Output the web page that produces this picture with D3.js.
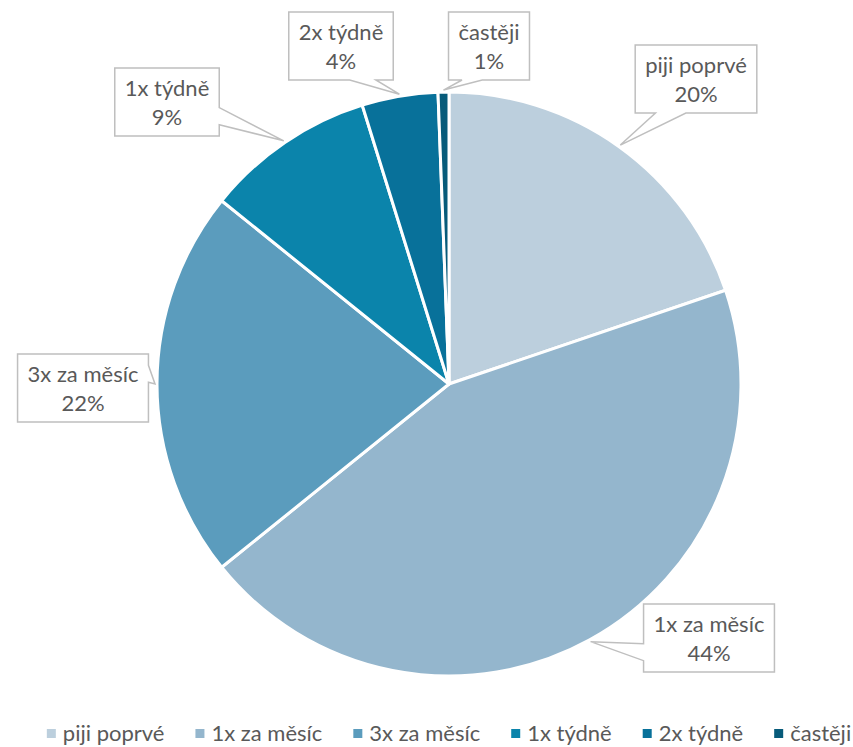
<!DOCTYPE html>
<html>
<head>
<meta charset="utf-8">
<script src="https://cdnjs.cloudflare.com/ajax/libs/d3/7.8.5/d3.min.js"></script>
<style>
body { margin: 0; background: #fff; }
text { font-family: Lato, "Open Sans", sans-serif; fill: #595959; }
</style>
</head>
<body>
<script>
var width = 853, height = 747;

var categories = ["piji poprvé", "1x za měsíc", "3x za měsíc", "1x týdně", "2x týdně", "častěji"];
var values = [19.8, 44.4, 21.6, 9.4, 4.2, 0.6];
var colors = ["#bccfdd", "#94b6cd", "#5b9cbd", "#0b84ab", "#08719a", "#075b7a"];

// label box centres, relative to the pie centre
var labelOffsets = [[247, -305], [260, 254], [-366, 4], [-282, -282], [-108, -338], [40, -338]];

var cx = 449, cy = 384, radius = 292;
var fontSize = 22, lineGap = 29, padX = 10, boxH = 68;

var svg = d3.select("body").append("svg")
	.attr("width", width)
	.attr("height", height);

var pie = d3.pie().sort(null).value(function (d) { return d; });
var arc = d3.arc().innerRadius(0).outerRadius(radius);
var arcs = pie(values);
var total = d3.sum(values);

var g = svg.append("g").attr("transform", "translate(" + cx + "," + cy + ")");

g.selectAll("path.slice")
	.data(arcs)
	.enter()
	.append("path")
	.attr("class", "slice")
	.attr("d", arc)
	.attr("fill", function (d, i) { return colors[i]; })
	.attr("stroke", "#fff")
	.attr("stroke-width", 3)
	.attr("stroke-linejoin", "round");

// callout box with wedge (same geometry as an office wedgeRectCallout)
function callout(l, t, w, h, px, py) {
	var r = l + w, b = t + h;
	var hc = l + w / 2, vc = t + h / 2;
	var dx = px - hc, dy = py - vc;
	var dz = Math.abs(dy) - Math.abs(dx * h / w);
	var x1 = l + w * (dx > 0 ? 7 : 2) / 12, x2 = l + w * (dx > 0 ? 10 : 5) / 12;
	var y1 = t + h * (dy > 0 ? 7 : 2) / 12, y2 = t + h * (dy > 0 ? 10 : 5) / 12;
	var pts = [[l, t]];
	if (dz > 0 && dy < 0) pts.push([x1, t], [px, py], [x2, t]);
	pts.push([r, t]);
	if (dz <= 0 && dx > 0) pts.push([r, y1], [px, py], [r, y2]);
	pts.push([r, b]);
	if (dz > 0 && dy > 0) pts.push([x2, b], [px, py], [x1, b]);
	pts.push([l, b]);
	if (dz <= 0 && dx < 0) pts.push([l, y2], [px, py], [l, y1]);
	return "M" + pts.map(function (p) { return p[0] + "," + p[1]; }).join("L") + "Z";
}

var fmt = function (v) { return Math.round(v / total * 100) + "%"; };

var labels = g.selectAll("g.label")
	.data(arcs)
	.enter()
	.append("g")
	.attr("class", "label");

labels.each(function (d, i) {
	var el = d3.select(this);
	var ox = labelOffsets[i][0], oy = labelOffsets[i][1];
	var box = el.append("path");
	var t1 = el.append("text")
		.attr("x", ox).attr("y", oy - 6)
		.attr("text-anchor", "middle")
		.attr("font-size", fontSize)
		.text(categories[i]);
	var t2 = el.append("text")
		.attr("x", ox).attr("y", oy - 6 + lineGap)
		.attr("text-anchor", "middle")
		.attr("font-size", fontSize)
		.text(fmt(d.value));
	var tw = Math.max(t1.node().getComputedTextLength(), t2.node().getComputedTextLength());
	var w = tw + padX * 2;
	var mid = (d.startAngle + d.endAngle) / 2;
	var px = Math.sin(mid) * (radius + 2), py = -Math.cos(mid) * (radius + 2);
	box.attr("d", callout(ox - w / 2, oy - boxH / 2, w, boxH, px, py))
		.attr("fill", "#fff")
		.attr("stroke", "#bfbfbf")
		.attr("stroke-width", 1.5);
});

// legend
var legend = svg.append("g").attr("class", "legend");
var items = legend.selectAll("g")
	.data(categories)
	.enter()
	.append("g");

items.append("rect")
	.attr("y", 729)
	.attr("width", 9)
	.attr("height", 9)
	.attr("fill", function (d, i) { return colors[i]; });

items.append("text")
	.attr("x", 16)
	.attr("y", 741)
	.attr("font-size", fontSize)
	.text(function (d) { return d; });

var xpos = 0, starts = [];
items.each(function () {
	starts.push(xpos);
	xpos += 16 + d3.select(this).select("text").node().getComputedTextLength() + 31;
});
var legendW = xpos - 31;
var lx = cx - legendW / 2;
items.attr("transform", function (d, i) { return "translate(" + (lx + starts[i]) + ",0)"; });
</script>
</body>
</html>
